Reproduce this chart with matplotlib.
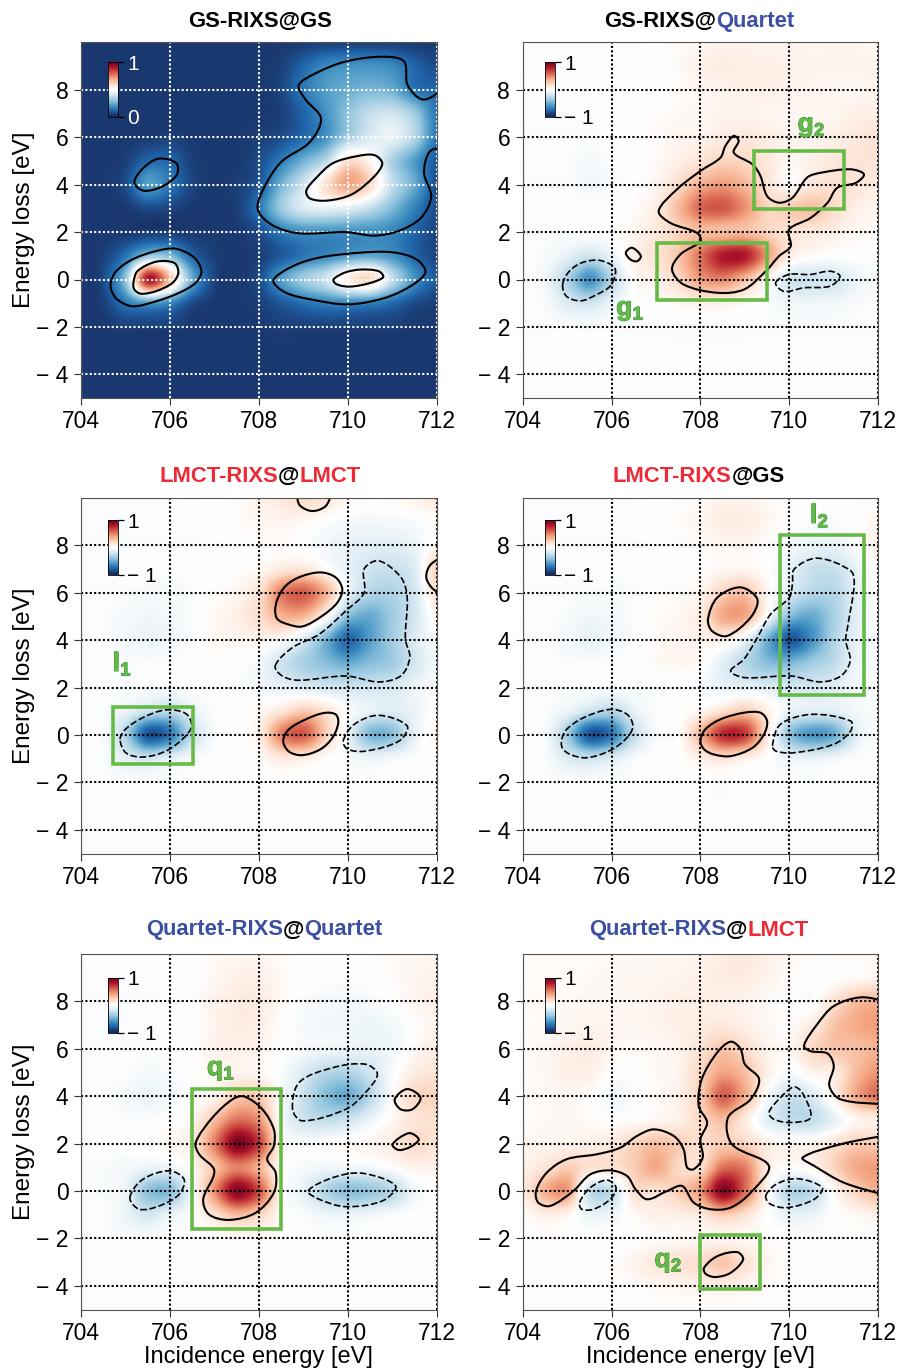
import numpy as np
import matplotlib
matplotlib.use('Agg')
import matplotlib.pyplot as plt
import matplotlib.patheffects as pe
from matplotlib.colors import LinearSegmentedColormap
from matplotlib.path import Path
from matplotlib.patches import PathPatch, Rectangle

plt.rcParams['font.family'] = ['Liberation Sans', 'DejaVu Sans']
plt.rcParams['mathtext.fontset'] = 'custom'
plt.rcParams['mathtext.bf'] = 'Liberation Sans:bold'

# grid of the maps, values in percent of the colour scale
incidence = [704, 704.5, 705, 705.5, 706, 706.5, 707, 707.5, 708, 708.5, 709, 709.5, 710, 710.5, 711, 711.5, 712]
loss = [10, 9, 8, 7, 6, 5, 4, 3, 2, 1, 0, -1, -2, -3, -4, -5]

gs_gs = [
    [5, 5, 5, 5, 5, 5, 5, 5, 5, 5, 5, 6, 6, 6, 6, 5, 5],
    [5, 5, 5, 5, 5, 5, 5, 5, 5, 6, 12, 18, 20, 20, 18, 12, 8],
    [5, 5, 5, 5, 5, 5, 5, 5, 5, 7, 15, 22, 25, 27, 25, 15, 12],
    [5, 5, 5, 5, 5, 5, 5, 5, 5, 6, 12, 20, 30, 38, 40, 32, 15],
    [5, 5, 5, 5, 6, 5, 5, 5, 6, 8, 13, 20, 33, 42, 45, 35, 15],
    [5, 5, 6, 12, 12, 6, 5, 5, 8, 16, 26, 36, 58, 52, 34, 22, 10],
    [5, 5, 8, 22, 15, 7, 5, 6, 10, 26, 40, 58, 70, 60, 38, 25, 8],
    [5, 5, 5, 8, 7, 5, 5, 6, 15, 32, 42, 45, 44, 38, 28, 17, 8],
    [5, 5, 5, 5, 5, 5, 5, 5, 8, 16, 20, 20, 20, 20, 18, 12, 7],
    [5, 6, 14, 30, 28, 12, 6, 5, 6, 10, 15, 18, 22, 24, 20, 12, 7],
    [5, 8, 30, 90, 65, 25, 7, 5, 8, 22, 32, 40, 55, 60, 38, 20, 10],
    [5, 6, 15, 22, 18, 8, 5, 5, 6, 10, 14, 17, 18, 17, 13, 8, 6],
    [5, 5, 6, 6, 6, 5, 5, 5, 5, 6, 6, 6, 6, 6, 6, 5, 5],
    [5, 5, 5, 5, 5, 5, 5, 5, 5, 5, 5, 5, 5, 5, 5, 5, 5],
    [5, 5, 5, 5, 5, 5, 5, 5, 5, 5, 5, 5, 5, 5, 5, 5, 5],
    [5, 5, 5, 5, 5, 5, 5, 5, 5, 5, 5, 5, 5, 5, 5, 5, 5],
]
gs_quartet = [
    [-2, -2, -2, -2, -2, -2, 0, 2, 4, 6, 6, 5, 5, 5, 5, 5, 4],
    [-2, -2, -2, -2, -2, -1, 1, 3, 8, 10, 9, 8, 7, 6, 6, 6, 6],
    [-2, -2, -2, -2, -2, -1, 0, 2, 4, 6, 8, 8, 7, 5, 4, 4, 6],
    [-2, -2, -2, -2, -2, 0, 2, 3, 4, 6, 6, 5, 4, 4, 5, 8, 8],
    [-2, -2, -2, -2, -1, 0, 2, 5, 6, 10, 12, 9, 6, 6, 8, 12, 14],
    [-2, -2, -2, -4, -2, 0, 3, 8, 15, 22, 20, 12, 4, 8, 12, 14, 14],
    [-2, -2, -2, -5, -3, 0, 5, 18, 35, 42, 32, 15, 2, 12, 16, 14, 10],
    [-2, -2, -1, -1, 0, 2, 10, 32, 58, 62, 45, 22, 25, 30, 18, 8, 5],
    [-2, -2, -1, 0, 0, 5, 12, 22, 30, 30, 30, 22, 15, 12, 8, 4, 2],
    [-2, -3, -10, -20, -8, 8, 15, 28, 55, 80, 80, 42, 10, 2, 0, 0, 0],
    [-2, -6, -30, -60, -28, 2, 8, 20, 42, 48, 30, 5, -18, -20, -18, -8, -3],
    [-2, -3, -15, -20, -8, 0, 1, 4, 8, 8, 3, -2, -6, -7, -6, -3, -2],
    [-2, -2, -2, -3, -2, -2, -2, -2, -2, -2, -2, -2, -2, -2, -2, -2, -2],
    [-2, -2, -2, -2, -2, -2, -2, -2, -2, -2, -2, -2, -2, -2, -2, -2, -2],
    [-2, -2, -2, -2, -2, -2, -2, -2, -2, -2, -2, -2, -2, -2, -2, -2, -2],
    [-2, -2, -2, -2, -2, -2, -2, -2, -2, -2, -2, -2, -2, -2, -2, -2, -2],
]
lmct_lmct = [
    [-2, -2, -2, -2, -2, -1, 0, 2, 6, 12, 20, 15, 5, 2, 3, 6, 12],
    [-2, -2, -2, -2, -2, -1, 0, 2, 4, 6, 4, 0, -4, -5, -4, -2, 2],
    [-2, -2, -2, -2, -2, -2, -1, 0, 1, 2, 0, -5, -10, -12, -12, -8, 5],
    [-2, -2, -2, -2, -2, -2, 0, 1, 3, 10, 12, 2, -10, -20, -22, -14, 22],
    [-2, -2, -2, -3, -3, -2, 1, 5, 15, 50, 60, 35, -8, -28, -30, -18, 18],
    [-2, -2, -4, -6, -5, -2, 3, 8, 18, 35, 35, 5, -40, -50, -35, -18, 4],
    [-2, -2, -5, -8, -6, -2, 3, 5, 6, 2, -15, -45, -75, -55, -35, -15, -2],
    [-2, -2, -2, -2, -2, -1, 0, 0, -5, -20, -32, -42, -50, -42, -35, -18, -5],
    [-2, -2, -2, -2, -2, -1, -1, -2, -5, -10, -14, -18, -20, -20, -18, -8, -2],
    [-2, -2, -8, -20, -25, -10, -2, -1, 3, 12, 25, 15, -2, -10, -14, -8, 0],
    [-2, -3, -30, -82, -70, -25, -3, 0, 8, 50, 62, 25, -8, -45, -42, -10, 6],
    [-2, -2, -12, -20, -12, -4, -1, 0, 2, 12, 10, 2, -3, -8, -5, -2, 0],
    [-2, -2, -2, -2, -2, -2, -2, -1, -1, -1, -1, -1, -2, -2, -2, -2, -2],
    [-2, -2, -2, -2, -2, -2, -2, -2, -2, -2, -2, -2, -2, -2, -2, -2, -2],
    [-2, -2, -2, -2, -2, -2, -2, -2, -2, -2, -2, -2, -2, -2, -2, -2, -2],
    [-2, -2, -2, -2, -2, -2, -2, -2, -2, -2, -2, -2, -2, -2, -2, -2, -2],
]
lmct_gs = [
    [-2, -2, -2, -2, -2, -2, 0, 1, 3, 6, 6, 3, 1, 1, 1, 1, 2],
    [-2, -2, -2, -2, -2, -1, 1, 2, 5, 10, 10, 5, 0, -2, -2, 0, 5],
    [-2, -2, -2, -2, -2, -2, 0, 1, 2, 5, 5, 0, -4, -8, -8, -2, 8],
    [-2, -2, -2, -2, -2, -2, 0, 1, 2, 4, 4, 0, -10, -22, -22, -10, 3],
    [-2, -2, -2, -2, -3, -2, 1, 2, 5, 22, 28, 4, -15, -28, -28, -12, 0],
    [-2, -2, -3, -6, -5, -2, 2, 4, 12, 38, 38, -2, -42, -50, -32, -12, 0],
    [-2, -2, -5, -10, -6, -2, 2, 5, 6, 8, -8, -48, -80, -60, -30, -10, -2],
    [-2, -2, -2, -2, -2, 0, 3, 4, 2, -12, -28, -42, -45, -35, -25, -8, -2],
    [-2, -2, -2, -2, -2, -2, -2, -1, -4, -8, -10, -14, -18, -18, -14, -5, -2],
    [-2, -2, -8, -20, -28, -10, -2, 0, 4, 15, 25, 8, -8, -12, -12, -5, -2],
    [-2, -3, -35, -82, -70, -25, -3, 0, 35, 75, 70, 12, -40, -58, -50, -12, -2],
    [-2, -2, -15, -22, -15, -4, -1, 0, 8, 15, 8, 0, -8, -10, -6, -2, -2],
    [-2, -2, -2, -2, -2, -2, -2, -2, -1, -1, -1, -2, -2, -2, -2, -2, -2],
    [-2, -2, -2, -2, -2, -2, -2, -2, -2, -2, -2, -2, -2, -2, -2, -2, -2],
    [-2, -2, -2, -2, -2, -2, -2, -2, -2, -2, -2, -2, -2, -2, -2, -2, -2],
    [-2, -2, -2, -2, -2, -2, -2, -2, -2, -2, -2, -2, -2, -2, -2, -2, -2],
]
quartet_quartet = [
    [-1, -1, -1, -1, -1, 0, 2, 4, 4, 2, 0, 0, 0, 1, 3, 4, 6],
    [-2, -2, -2, -2, -1, 0, 4, 8, 8, 3, 0, -1, -2, -1, 2, 5, 6],
    [-2, -2, -2, -2, -1, 1, 6, 10, 10, 3, -2, -4, -5, -3, 0, 5, 8],
    [-2, -2, -2, -2, -1, 1, 6, 10, 8, 1, -4, -6, -6, -8, -5, 1, 5],
    [-2, -2, -2, -2, -1, 1, 6, 8, 6, 0, -4, -6, -8, -9, -6, 3, 10],
    [-2, -2, -2, -4, -3, 0, 4, 6, 4, -2, -15, -28, -30, -20, -3, 10, 14],
    [-2, -2, -4, -8, -5, 0, 5, 25, 25, -2, -22, -42, -50, -28, 0, 20, 22],
    [-2, -2, -2, -2, 0, 5, 30, 55, 45, -2, -20, -25, -20, -8, 4, 14, 16],
    [-2, -1, 0, 2, 4, 12, 50, 95, 70, 5, -2, 0, 2, 5, 10, 20, 14],
    [-2, -3, -5, -8, -8, 4, 28, 50, 35, 3, -4, -6, -6, -5, 0, 6, 6],
    [-2, -3, -8, -40, -42, -3, 45, 92, 65, 4, -10, -30, -42, -38, -28, -6, 0],
    [-2, -2, -8, -18, -8, -1, 15, 30, 22, 2, -3, -7, -8, -6, -3, -1, -1],
    [-2, -2, -2, -2, -2, -2, 0, 2, 2, 1, -1, -2, -2, -2, -2, -2, -2],
    [-2, -2, -2, -2, -2, -2, -2, -2, -2, -2, -2, -2, -2, -2, -2, -2, -2],
    [-2, -2, -2, -2, -2, -2, -2, -2, -2, -2, -2, -2, -2, -2, -2, -2, -2],
    [-2, -2, -2, -2, -2, -2, -2, -2, -2, -2, -2, -2, -2, -2, -2, -2, -2],
]
quartet_lmct = [
    [2, 2, 2, 2, 3, 3, 4, 4, 6, 10, 12, 8, 4, 2, 2, 3, 4],
    [2, 2, 2, 3, 4, 4, 5, 6, 8, 10, 10, 6, 2, 0, 0, 3, 6],
    [2, 3, 3, 4, 4, 4, 6, 8, 8, 8, 6, 3, 0, -2, 15, 30, 35],
    [2, 3, 4, 6, 5, 4, 6, 8, 10, 12, 8, 4, 2, 10, 28, 38, 42],
    [2, 4, 8, 10, 5, 2, 4, 6, 15, 28, 18, 6, 4, 20, 28, 30, 35],
    [2, 4, 8, 8, 0, -1, 3, 6, 22, 40, 30, 8, -3, 6, 10, 32, 45],
    [2, 3, 4, 2, -5, -2, 3, 8, 25, 60, 35, -2, -22, -15, 8, 38, 55],
    [2, 3, 4, 2, 0, 2, 5, 8, 20, 30, 10, -12, -24, -25, -10, 5, 8],
    [4, 5, 6, 8, 12, 22, 30, 25, 18, 25, 22, 8, 5, 5, 15, 25, 25],
    [8, 14, 25, 16, 16, 25, 38, 20, 18, 55, 50, 10, 0, 5, 22, 38, 42],
    [10, 35, 42, -22, -24, 16, 15, 25, 45, 92, 55, 4, -28, -25, 3, 22, 35],
    [2, 8, 5, -8, -6, 3, 8, 8, 12, 25, 15, 0, -10, -8, 0, 4, 8],
    [1, 1, 1, 0, -1, 0, 2, 3, 4, 5, 4, 2, 0, -1, 0, 1, 2],
    [0, 0, 0, 1, 2, 6, 12, 15, 18, 28, 15, 5, 1, 1, 1, 1, 1],
    [0, 0, 0, 0, 1, 2, 4, 5, 6, 8, 5, 2, 1, 0, 0, 0, 0],
    [1, 1, 1, 1, 1, 1, 1, 1, 1, 1, 1, 1, 1, 1, 1, 1, 1],
]

# contour outlines: (incidence, loss)
gs_gs_closed = [
    [(704.67, -0.14), (704.79, 0.35), (705.16, 0.85), (705.69, 1.2), (706.13, 1.3), (706.55, 0.92), (706.71, 0.35), (706.58, -0.14), (706.21, -0.56), (705.69, -0.92), (705.16, -1.13), (704.82, -0.85), (704.69, -0.49)],
    [(705.18, -0.14), (705.27, 0.35), (705.69, 0.75), (706.1, 0.7), (706.19, 0.28), (706.06, -0.14), (705.69, -0.49), (705.35, -0.6), (705.2, -0.42)],
    [(705.2, 4.1), (705.4, 4.7), (705.75, 5.1), (706.15, 4.9), (706.15, 4.4), (705.8, 3.9), (705.4, 3.75)],
    [(708.33, -0.05), (708.7, 0.5), (709.3, 0.9), (710.2, 1.12), (711.0, 1.15), (711.55, 0.85), (711.75, 0.3), (711.4, -0.3), (710.8, -0.8), (710.0, -1.05), (709.2, -0.85), (708.6, -0.55)],
    [(709.68, 0), (709.95, 0.3), (710.3, 0.42), (710.7, 0.35), (710.8, 0.1), (710.5, -0.15), (710.05, -0.3), (709.75, -0.2)],
    [(709.07, 3.75), (709.3, 4.3), (709.66, 4.9), (710.2, 5.2), (710.6, 5.25), (710.78, 4.9), (710.6, 4.35), (710.1, 3.6), (709.55, 3.33), (709.15, 3.42)],
]
gs_gs_open = [
    [(712.2, 5.6), (711.85, 5.4), (711.72, 4.5), (711.88, 3.5), (711.65, 2.6), (711.15, 2.05), (710.6, 1.85), (709.96, 2.0), (708.9, 1.95), (708.3, 2.3), (707.98, 2.95), (708.1, 3.8), (708.5, 4.95), (709.15, 5.8), (709.4, 6.8), (709.05, 7.6), (708.9, 8.2), (709.28, 8.7), (709.96, 9.2), (710.8, 9.4), (711.27, 9.2), (711.35, 8.2), (711.68, 7.6), (712.05, 7.9), (712.2, 8.4)],
]
gs_quartet_closed = [
    [(706.32, 1.13), (706.46, 1.34), (706.66, 0.99), (706.57, 0.77), (706.42, 0.85)],
    [(707.06, 2.89), (707.47, 3.8), (708, 4.58), (708.45, 5.14), (708.56, 5.63), (708.75, 6.06), (708.86, 5.85), (708.75, 5.35), (709.17, 4.86), (709.35, 4.37), (709.5, 3.52), (709.77, 3.24), (710.07, 3.45), (710.4, 4.3), (710.7, 4.5), (711.38, 4.65), (711.68, 4.44), (711.5, 4.08), (711.08, 3.87), (710.86, 3.24), (710.48, 2.6), (709.99, 2.1), (710.03, 1.4), (709.77, 0.99), (709.47, 0.35), (708.98, -0.42), (708.38, -0.56), (707.62, -0.21), (707.36, 0.42), (707.55, 1.06), (708, 1.62), (707.92, 1.97), (707.32, 2.39)],
]
gs_quartet_dashed = [
    [(704.9, -0.2), (705.05, 0.35), (705.35, 0.72), (705.75, 0.8), (706.08, 0.45), (705.98, -0.25), (705.65, -0.65), (705.3, -0.9), (704.98, -0.7)],
    [(709.69, -0.14), (709.99, 0.21), (710.47, 0.21), (710.92, 0.35), (711.14, 0.14), (710.92, -0.28), (710.33, -0.35), (709.88, -0.5)],
]
lmct_lmct_closed = [
    [(708.37, 5.24), (708.42, 5.73), (708.61, 6.3), (708.94, 6.68), (709.39, 6.86), (709.73, 6.65), (709.88, 6.15), (709.77, 5.59), (709.43, 5.03), (708.98, 4.58), (708.64, 4.68), (708.42, 4.89)],
    [(708.55, -0.25), (708.68, 0.24), (709.06, 0.66), (709.47, 0.93), (709.73, 0.87), (709.79, 0.52), (709.66, -0.11), (709.39, -0.6), (708.98, -0.85), (708.68, -0.7)],
]
lmct_lmct_open = [
    [(708.85, 10.2), (708.92, 9.7), (709.2, 9.45), (709.5, 9.65), (709.65, 10.2)],
    [(712.1, 7.5), (711.85, 7.15), (711.77, 6.65), (711.9, 6.2), (712.1, 5.95)],
]
lmct_lmct_dashed = [
    [(704.88, -0.18), (705, 0.24), (705.39, 0.73), (705.91, 1.06), (706.36, 0.9), (706.49, 0.38), (706.32, -0.11), (705.91, -0.68), (705.39, -0.93), (705.01, -0.75)],
    [(709.9, -0.25), (710.15, 0.45), (710.7, 0.83), (711.34, 0.38), (711.16, -0.25), (710.4, -0.68), (710, -0.6)],
    [(708.37, 2.92), (708.76, 3.69), (709.36, 4.25), (709.96, 5.24), (710.37, 6.0), (710.37, 7.0), (710.7, 7.35), (711.2, 6.65), (711.34, 5.8), (711.3, 4.04), (711.4, 3.27), (711.2, 2.5), (710.7, 2.24), (709.96, 2.49), (708.9, 2.31), (708.53, 2.49)],
]
lmct_gs_closed = [
    [(708.17, 4.89), (708.38, 5.8), (708.9, 6.23), (709.28, 5.73), (709.13, 4.96), (708.6, 4.18), (708.26, 4.39)],
    [(708, -0.25), (708.11, 0.24), (708.45, 0.66), (708.98, 0.94), (709.35, 0.94), (709.5, 0.59), (709.43, 0.03), (709.17, -0.54), (708.68, -0.89), (708.3, -0.82), (708.08, -0.6)],
]
lmct_gs_dashed = [
    [(704.88, -0.18), (704.99, 0.24), (705.37, 0.73), (705.97, 1.08), (706.35, 0.87), (706.48, 0.38), (706.35, -0.11), (705.97, -0.65), (705.44, -0.96), (705.07, -0.82), (704.89, -0.54)],
    [(709.62, -0.46), (709.8, 0.45), (710.5, 0.87), (711.38, 0.59), (711.38, 0.17), (711, -0.39), (710.1, -0.75), (709.7, -0.68)],
    [(708.68, 2.7), (708.98, 3.2), (709.28, 4.11), (709.58, 5.1), (710, 5.8), (710.07, 6.37), (710.11, 7), (710.63, 7.46), (711.38, 6.93), (711.46, 6.37), (711.31, 4.54), (711.27, 3.97), (711.37, 3.13), (711.16, 2.49), (710.7, 2.24), (710.03, 2.49), (709, 2.42)],
]
quartet_quartet_closed = [
    [(706.58, 2.04), (706.96, 3.1), (707.41, 3.87), (707.67, 3.99), (708.08, 3.45), (708.34, 2.6), (708.34, 1.9), (708.19, 1.34), (708.38, 0.77), (708.34, -0.07), (707.93, -0.92), (707.33, -1.22), (706.88, -0.99), (706.75, -0.35), (707, 0.85), (706.66, 1.55)],
    [(711.06, 3.87), (711.34, 4.3), (711.64, 3.94), (711.46, 3.45), (711.19, 3.45)],
    [(711.01, 1.97), (711.38, 2.44), (711.6, 2.18), (711.42, 1.87), (711.15, 1.73)],
]
quartet_quartet_dashed = [
    [(705.1, -0.28), (705.39, 0.49), (705.99, 0.85), (706.32, 0.49), (706.21, -0.14), (705.76, -0.63), (705.31, -0.77)],
    [(708.76, 3.45), (708.91, 4.58), (709.66, 5.2), (710.4, 5.35), (710.67, 4.93), (710.4, 4.15), (709.96, 3.45), (708.98, 2.96)],
    [(709.11, 0), (709.66, 0.56), (710.33, 0.75), (711.08, 0.21), (710.78, -0.42), (709.96, -0.66), (709.36, -0.35)],
]
quartet_lmct_closed = [
    [(708.08, -3.24), (708.38, -2.75), (708.83, -2.58), (708.96, -2.89), (708.68, -3.45), (708.34, -3.63), (708.12, -3.5)],
    [(704.3, 0), (704.54, 0.77), (704.99, 1.34), (705.67, 1.55), (706.2, 1.83), (706.57, 2.32), (706.95, 2.6), (707.4, 2.32), (707.62, 1.76), (707.7, 0.99), (707.85, 0.92), (708.05, 1.41), (708, 2.18), (708.15, 2.89), (707.96, 3.59), (708.03, 4.72), (708.38, 5.85), (708.68, 6.3), (708.9, 6), (709, 5.35), (709.32, 4.72), (709.13, 3.87), (708.62, 3.1), (708.71, 1.97), (709.54, 1.06), (709.13, -0.07), (708.68, -0.7), (708.23, -0.77), (707.85, -0.49), (707.59, 0.21), (707.25, 0), (706.8, -0.35), (706.54, 0.07), (706.35, 0.63), (705.97, 0.87), (705.52, 0.7), (705.14, 0), (704.62, -0.63), (704.35, -0.49)],
]
quartet_lmct_open = [
    [(712.2, 8.0), (711.6, 8.17), (711, 7.8), (710.63, 7.04), (710.33, 6.13), (710.48, 5.9), (710.86, 5.8), (711, 5.28), (710.9, 4.44), (711.15, 3.87), (712.2, 3.64)],
    [(712.2, 2.36), (711.15, 1.97), (710.3, 1.41), (710.56, 1.06), (711.23, 0.35), (712.2, -0.2)],
]
quartet_lmct_dashed = [
    [(705.28, -0.49), (705.52, 0.14), (705.9, 0.46), (706.1, 0.14), (705.97, -0.35), (705.59, -0.77), (705.33, -0.77)],
    [(709.47, -0.21), (709.7, 0.28), (710.18, 0.52), (710.74, 0.14), (710.56, -0.35), (709.96, -0.7), (709.58, -0.56)],
    [(709.54, 3.31), (709.8, 3.94), (710.1, 4.39), (710.29, 4.15), (710.48, 3.1), (710.03, 2.89), (709.65, 3.03)],
]

# green boxes: x0, x1, y0, y1 and their labels
gs_quartet_boxes = [(707.02, 709.5, -0.85, 1.55), (709.2, 711.23, 2.99, 5.42)]
lmct_lmct_boxes = [(704.73, 706.53, -1.21, 1.2)]
lmct_gs_boxes = [(709.8, 711.67, 1.69, 8.44)]
quartet_quartet_boxes = [(706.5, 708.51, -1.6, 4.3)]
quartet_lmct_boxes = [(707.98, 709.33, -4.15, -1.87)]

gs_quartet_labels = [('g', '1', 706.42, -1.3), ('g', '2', 710.5, 6.45)]
lmct_lmct_labels = [('l', '1', 704.93, 3.0)]
lmct_gs_labels = [('l', '2', 710.68, 9.25)]
quartet_quartet_labels = [('q', '1', 707.15, 5.1)]
quartet_lmct_labels = [('q', '2', 707.28, -3.0)]

x_ticks = [704, 706, 708, 710, 712]
y_ticks = [-4, -2, 0, 2, 4, 6, 8]
y_tick_labels = ['\u2212 4', '\u2212 2', '0', '2', '4', '6', '8']

RED = '#ee2a36'
BLUE = '#3b4fa3'
GREEN = '#66bb47'
W, H = 897, 1371

rixs_cmap = LinearSegmentedColormap.from_list('rixs', [
    (0, '#14295c'), (0.05, '#1b3a72'), (0.12, '#2166ac'), (0.2, '#4393c3'), (0.3, '#92c5de'), (0.4, '#d1e5f0'),
    (0.5, '#ffffff'), (0.6, '#fddbc7'), (0.7, '#f4a582'), (0.8, '#d6604d'), (0.9, '#b2182b'), (1, '#67001f')])

fig = plt.figure(figsize=(W / 100, H / 100), dpi=100)


def smooth_path(points, closed):
    # catmull-rom through the read points with chord lengths, so that
    # uneven spacing gives no kinks. y counts about half of x on screen
    p = np.array(points, dtype=float)
    scale = np.array([1.0, 0.53])
    n = len(p)
    verts = [p[0]]
    codes = [Path.MOVETO]

    def neighbour(i):
        if closed:
            return p[i % n]
        return p[min(max(i, 0), n - 1)]

    def tangent(i):
        a, b, c = neighbour(i - 1), neighbour(i), neighbour(i + 1)
        d1 = np.linalg.norm((b - a) * scale)
        d2 = np.linalg.norm((c - b) * scale)
        return (c - a) / max(d1 + d2, 1e-6)

    last = n if closed else n - 1
    for i in range(last):
        a, b = neighbour(i), neighbour(i + 1)
        d = np.linalg.norm((b - a) * scale)
        verts += [a + tangent(i) * d / 3, b - tangent(i + 1) * d / 3, b]
        codes += [Path.CURVE4] * 3
    return Path(verts, codes)


def draw_title(parts, cx, cy):
    rend = fig.canvas.get_renderer()
    texts = [fig.text(0, 1 - cy / H, s, color=c, fontsize=15.8, fontweight='bold', va='center') for s, c in parts]
    widths = [t.get_window_extent(rend).width for t in texts]
    x = cx - sum(widths) / 2
    for t, w in zip(texts, widths):
        t.set_x(x / W)
        x += w


panels = [
    dict(data=gs_gs, vmin=0, closed=gs_gs_closed, opened=gs_gs_open, dashed=[], boxes=[], labels=[],
         left=81, top=42.5, cb=(27, 19.5), title=[('GS-RIXS@GS', 'black')], cx=260, cy=21, grid='white'),
    dict(data=gs_quartet, vmin=-100, closed=gs_quartet_closed, opened=[], dashed=gs_quartet_dashed,
         boxes=gs_quartet_boxes, labels=gs_quartet_labels, left=522.7, top=42.5, cb=(22.3, 19.5),
         title=[('GS-RIXS@', 'black'), ('Quartet', BLUE)], cx=699, cy=21, grid='black'),
    dict(data=lmct_lmct, vmin=-100, closed=lmct_lmct_closed, opened=lmct_lmct_open, dashed=lmct_lmct_dashed,
         boxes=lmct_lmct_boxes, labels=lmct_lmct_labels, left=81, top=498, cb=(27, 22),
         title=[('LMCT-RIXS', RED), ('@', 'black'), ('LMCT', RED)], cx=260, cy=476, grid='black'),
    dict(data=lmct_gs, vmin=-100, closed=lmct_gs_closed, opened=[], dashed=lmct_gs_dashed,
         boxes=lmct_gs_boxes, labels=lmct_gs_labels, left=522.7, top=498, cb=(22.3, 22),
         title=[('LMCT-RIXS', RED), ('@GS', 'black')], cx=699, cy=476, grid='black'),
    dict(data=quartet_quartet, vmin=-100, closed=quartet_quartet_closed, opened=[], dashed=quartet_quartet_dashed,
         boxes=quartet_quartet_boxes, labels=quartet_quartet_labels, left=81, top=954, cb=(27, 23.7),
         title=[('Quartet-RIXS', BLUE), ('@', 'black'), ('Quartet', BLUE)], cx=264, cy=930, grid='black'),
    dict(data=quartet_lmct, vmin=-100, closed=quartet_lmct_closed, opened=quartet_lmct_open, dashed=quartet_lmct_dashed,
         boxes=quartet_lmct_boxes, labels=quartet_lmct_labels, left=522.7, top=954, cb=(22.3, 23.7),
         title=[('Quartet-RIXS', BLUE), ('@', 'black'), ('LMCT', RED)], cx=699, cy=930, grid='black'),
]

size = 355.5
for k, pan in enumerate(panels):
    ax = fig.add_axes([pan['left'] / W, 1 - (pan['top'] + size) / H, size / W, size / H])
    ext = (incidence[0] - 0.25, incidence[-1] + 0.25, loss[-1] - 0.5, loss[0] + 0.5)
    # catrom goes through the grid values, agg's bicubic flattens the peaks
    im = ax.imshow(pan['data'], extent=ext, cmap=rixs_cmap, vmin=pan['vmin'], vmax=100,
                   interpolation='catrom', interpolation_stage='data', aspect='auto', zorder=1)
    ax.set_xlim(704, 712)
    ax.set_ylim(-5, 10)

    # dotted grid on top of the map
    ax.set_xticks(x_ticks)
    ax.set_yticks(y_ticks)
    ax.set_yticklabels(y_tick_labels)
    ax.grid(True, color=pan['grid'], linestyle=(0, (1, 1.1)), linewidth=1.5, zorder=2)
    ax.set_axisbelow(False)
    ax.tick_params(axis='both', labelsize=16.5, length=5, width=0.8, color='#333333', pad=4)
    for s in ax.spines.values():
        s.set_linewidth(0.8)
        s.set_color('#555555')
        s.set_zorder(5)

    for c in pan['closed']:
        ax.add_patch(PathPatch(smooth_path(c, True), fill=False, ec='black', lw=1.5, zorder=3))
    for c in pan['opened']:
        ax.add_patch(PathPatch(smooth_path(c, False), fill=False, ec='black', lw=1.5, zorder=3))
    for c in pan['dashed']:
        ax.add_patch(PathPatch(smooth_path(c, True), fill=False, ec='black', lw=1.2, ls=(0, (4, 1.6)), zorder=3))

    for x0, x1, y0, y1 in pan['boxes']:
        ax.add_patch(Rectangle((x0, y0), x1 - x0, y1 - y0, fill=False, ec=GREEN, lw=2.6, zorder=4))
    for letter, sub, lx, ly in pan['labels']:
        ax.text(lx, ly, r'$\mathbf{%s}_{\mathbf{%s}}$' % (letter, sub), color=GREEN, fontsize=19,
                ha='center', va='center', zorder=6,
                path_effects=[pe.withStroke(linewidth=0.7, foreground='#2f8f3a')])

    if k % 2 == 0:
        ax.set_ylabel('Energy loss [eV]', fontsize=17.5, labelpad=1)
    if k >= 4:
        ax.set_xlabel('Incidence energy [eV]', fontsize=17, labelpad=0.5)

    # small colour bar inside the panel
    cbx, cby = pan['cb']
    cax = fig.add_axes([(pan['left'] + cbx) / W, 1 - (pan['top'] + cby + 55) / H, 10 / W, 55 / H])
    cbar = fig.colorbar(im, cax=cax, ticks=[pan['vmin'], 100])
    tc = 'white' if pan['vmin'] == 0 else 'black'
    cbar.ax.set_yticklabels(['0' if pan['vmin'] == 0 else '\u2212 1', '1'], color=tc, fontsize=15)
    cbar.ax.tick_params(length=4, width=0.9, color='black', pad=2.5)
    cbar.outline.set_linewidth(0.6)

    draw_title(pan['title'], pan['cx'], pan['cy'])

fig.savefig('out.png', dpi=100)
